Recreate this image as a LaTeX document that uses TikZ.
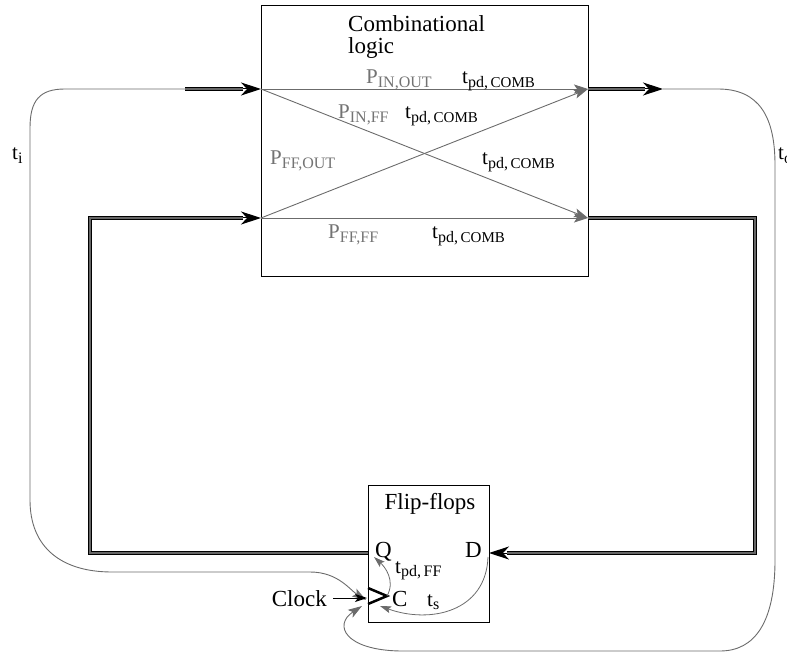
\documentclass[tikz,border=0pt]{standalone}
\usepackage{fontspec}
\setmainfont{Liberation Serif}
\usetikzlibrary{arrows.meta}
\newcommand{\sbs}[1]{\raisebox{-0.35ex}{\fontsize{16}{16}\selectfont #1}}
\newcommand{\tpd}[1]{t\sbs{pd,\,{\fontsize{15}{15}\selectfont #1}}}
\begin{document}
\begin{tikzpicture}[x=1pt,y=-1pt,
  box/.style={draw=black, line width=0.8pt, inner sep=0pt, fill=none},
  bus/.style={draw=black, line width=1.2pt, double=black!60, double distance=1.7pt},
  bigtip/.style={draw=black, line width=1pt, -{Stealth[length=20pt,width=13pt,inset=6pt]}},
  gline/.style={draw=black!58, line width=0.9pt},
  garrow/.style={gline, -{Stealth[length=14pt,width=9pt,inset=3pt]}},
  smallarrow/.style={draw=black!58, line width=0.8pt, -{Stealth[length=11pt,width=7pt,inset=2pt]}},
  bigtext/.style={font=\fontsize{23}{20}\selectfont, inner sep=0pt},
  lbl/.style={font=\fontsize{21}{21}\selectfont, inner sep=0pt, anchor=base west},
  glbl/.style={lbl, text=black!55},
]
\useasboundingbox (0,0) rectangle (787,652);

% boxes
\node[box, minimum width=327pt, minimum height=271pt] (comb) at (424.5,140.5) {};
\node[box, minimum width=121pt, minimum height=137pt] (ff) at (428.5,553.5) {};

% coordinates
\coordinate (inL) at (261,89);
\coordinate (ffL) at (261,218);
\coordinate (outR) at (588,89);
\coordinate (ffR) at (588,218);
\coordinate (inS) at (185,89);
\coordinate (inB) at (243,89);
\coordinate (outB) at (645,89);
\coordinate (outT) at (663,89);
\coordinate (q) at (368,553);
\coordinate (d) at (489,553);
\coordinate (dB) at (507,553);
\coordinate (lpB) at (243,218);
\coordinate (clk) at (367,598);
\coordinate (clkS) at (333,598);
\coordinate (chev) at (387,596);

% combinational paths
\draw[garrow] (inL) -- (outR);
\draw[garrow] (inL) -- (ffR);
\draw[garrow] (ffL) -- (outR);
\draw[garrow] (ffL) -- (ffR);

% thick buses
\draw[bus] (inS) -- (inB);
\draw[bigtip] (inB) -- (inL);
\draw[bus] (outR) -- (outB);
\draw[bigtip] (outB) -- (outT);
\draw[bus] (ffR) -- (755,218) -- (755,553) -- (dB);
\draw[bigtip] (dB) -- (d);
\draw[bus] (q) -- (90,553) -- (90,218) -- (lpB);
\draw[bigtip] (lpB) -- (ffL);

% timing loops
\draw[garrow] (inS) -- (65,89) .. controls (40,89) and (30,100) .. (30,128) -- (30,500)
  .. controls (30,548) and (62,572) .. (112,572) -- (310,572)
  .. controls (338,572) and (350,590) .. (366,600);
\draw[garrow] (outT) -- (718,89) .. controls (760,89) and (775,118) .. (775,165) -- (775,560)
  .. controls (775,622) and (755,651) .. (720,651) -- (400,651)
  .. controls (345,650) and (333,625) .. (362,606);

% clock
\draw[draw=black, line width=0.9pt, -{Stealth[length=12pt,width=8pt,inset=3pt]}] (clkS) -- (clk);
\draw[line width=2.5pt] (368,588) -- (chev) -- (368,604);
\draw[smallarrow] (chev) .. controls (396,580) and (384,566) .. (374,557);
\draw[smallarrow] (488,557) .. controls (486,612) and (430,624) .. (380,606);

% labels
\node[bigtext, anchor=base west] (title) at (348,32) {Combinational};
\node[bigtext, anchor=base west] (title2) at (348,54) {logic};
\node[glbl] (p1) at (366,84) {P\sbs{IN,OUT}};
\node[lbl] (t1) at (462,84) {\tpd{COMB}};
\node[glbl] (p2) at (338,119) {P\sbs{IN,FF}};
\node[lbl] (t2) at (405,119) {\tpd{COMB}};
\node[glbl] (p3) at (270,165) {P\sbs{FF,OUT}};
\node[lbl] (t3) at (482,165) {\tpd{COMB}};
\node[glbl] (p4) at (328,239) {P\sbs{FF,FF}};
\node[lbl] (t4) at (432,239) {\tpd{COMB}};

\node[bigtext, anchor=base] (fft) at (430,509) {Flip-flops};
\node[bigtext, anchor=base west] (ql) at (375,557) {Q};
\node[bigtext, anchor=base west] (dl) at (465,557) {D};
\node[bigtext, anchor=base west] (cl) at (392,606) {C};
\node[bigtext, anchor=base east] (clockl) at (327,606) {Clock};
\node[lbl] (tff) at (395,573) {t\sbs{pd,\,FF}};
\node[lbl] (ts) at (427,606) {t\sbs{s}};
\node[lbl] (ti) at (12,160) {t\sbs{i}};
\node[lbl] (to) at (778,160) {t\sbs{o}};
\end{tikzpicture}
\end{document}
